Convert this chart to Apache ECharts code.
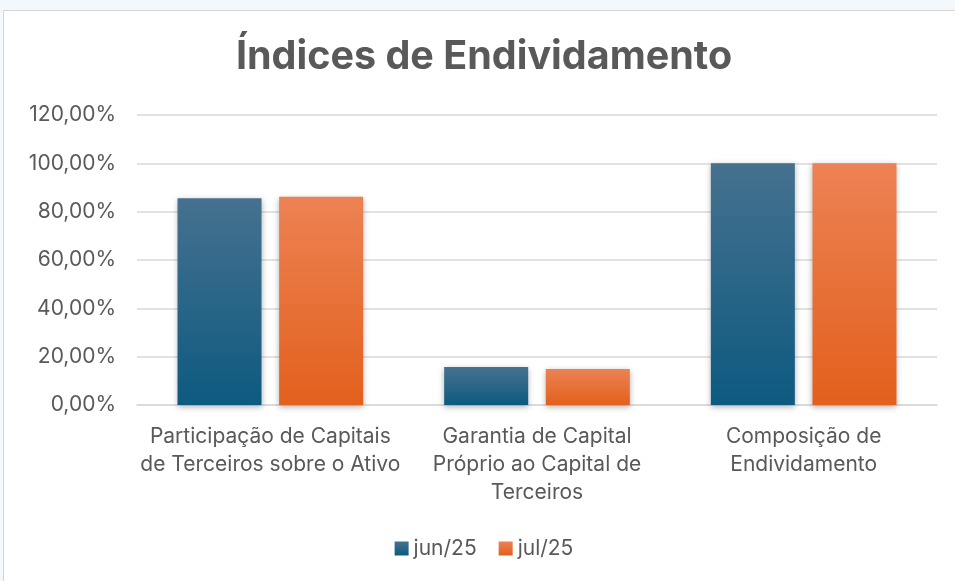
<!DOCTYPE html>
<html>
<head>
<meta charset="utf-8">
<script src="https://cdn.jsdelivr.net/npm/echarts@6/dist/echarts.min.js"></script>
<style>
    html, body { margin: 0; padding: 0; background: #f3f8fc; overflow: hidden; }
    #frame { position: absolute; left: 3px; top: 10px; width: 960px; height: 580px;
        background: #fff; border: 1px solid #d6d6d6; }
    #chart { width: 960px; height: 580px; }
</style>
</head>
<body>
<div id="frame"><div id="chart"></div></div>
<script>
// categorias e valores (%)
var categories = [
    'Participação de Capitais\nde Terceiros sobre o Ativo',
    'Garantia de Capital\nPróprio ao Capital de\nTerceiros',
    'Composição de\nEndividamento'
];
var seriesNames = ['jun/25', 'jul/25'];
var jun25 = [85.6, 15.7, 100];
var jul25 = [86.2, 14.9, 100];
var yTicks = [0, 20, 40, 60, 80, 100, 120];

var myChart = echarts.init(document.getElementById('chart'));

function grad(top, bottom) {
    return new echarts.graphic.LinearGradient(0, 0, 0, 1, [
        { offset: 0, color: top },
        { offset: 1, color: bottom }
    ]);
}

var textColor = '#595959';
var font = 'Inter, "Liberation Sans", sans-serif';

var option = {
    animation: false,
    textStyle: { fontFamily: font },
    title: {
        text: 'Índices de Endividamento',
        left: 'center',
        top: 21,
        textStyle: { fontSize: 39.5, fontWeight: 'bold', color: textColor, fontFamily: font }
    },
    legend: {
        data: seriesNames,
        bottom: 27,
        left: 'center',
        itemWidth: 14,
        itemHeight: 14,
        itemGap: 22,
        icon: 'rect',
        textStyle: { fontSize: 21, color: textColor }
    },
    grid: {
        left: 133,
        top: 104,
        width: 800,
        height: 290
    },
    xAxis: {
        type: 'category',
        data: categories,
        axisLine: { lineStyle: { color: '#d9d9d9', width: 1.5 } },
        axisTick: { show: false },
        axisLabel: {
            fontSize: 21,
            color: textColor,
            lineHeight: 28,
            margin: 18,
            interval: 0
        }
    },
    yAxis: {
        type: 'value',
        min: yTicks[0],
        max: yTicks[yTicks.length - 1],
        interval: 20,
        axisLine: { show: false },
        axisTick: { show: false },
        splitLine: { lineStyle: { color: '#d9d9d9', width: 1.5 } },
        axisLabel: {
            fontSize: 21,
            color: textColor,
            margin: 21,
            formatter: function (v) { return v.toFixed(2).replace('.', ',') + '%'; }
        }
    },
    series: [
        {
            name: seriesNames[0],
            type: 'bar',
            data: jun25,
            barWidth: '31.5%',
            barGap: '21%',
            itemStyle: {
                color: grad('#46718f', '#0d5a80'),
                shadowColor: 'rgba(0,0,0,0.3)',
                shadowBlur: 6,
                shadowOffsetY: 2
            }
        },
        {
            name: seriesNames[1],
            type: 'bar',
            data: jul25,
            barWidth: '31.5%',
            barGap: '21%',
            itemStyle: {
                color: grad('#ec8254', '#e3601d'),
                shadowColor: 'rgba(0,0,0,0.3)',
                shadowBlur: 6,
                shadowOffsetY: 2
            }
        }
    ]
};

myChart.setOption(option, true);
</script>
</body>
</html>
